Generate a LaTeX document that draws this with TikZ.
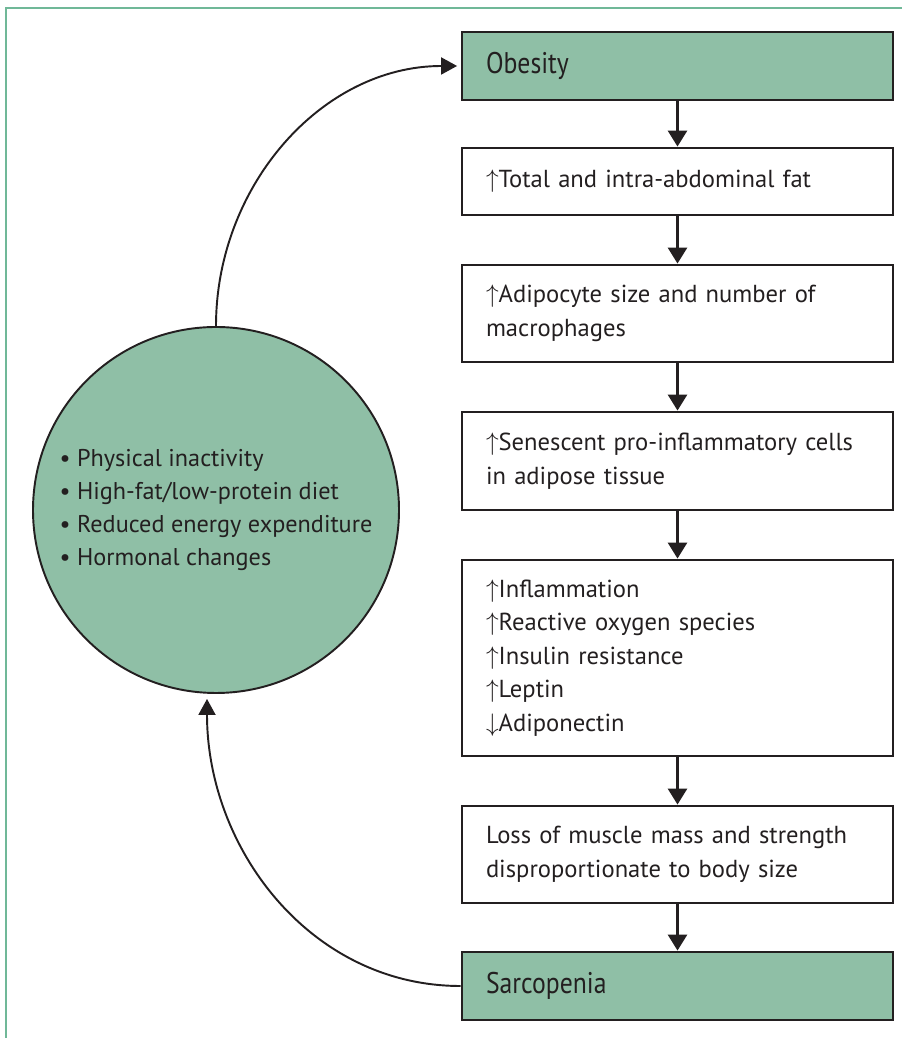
\documentclass[tikz,border=0pt]{standalone}
\usepackage{fontspec}
\setmainfont{PT Sans}
\newfontfamily\titlefont[FakeStretch=0.86]{PT Sans}
\usepackage{xcolor}
\usetikzlibrary{arrows.meta}

\definecolor{boxgreen}{RGB}{143,191,166}
\definecolor{rulegreen}{RGB}{112,184,152}
\definecolor{ink}{RGB}{35,31,32}

\begin{document}
\begin{tikzpicture}[
    box/.style={draw=ink, line width=1.6pt, text=ink, text width=7.66cm, inner xsep=0.48cm, align=left, font=\fontsize{14}{19}\selectfont},
    titlebox/.style={box, fill=boxgreen, font=\titlefont\fontsize{17}{20}\selectfont},
    arrow/.style={-{Triangle[length=0.32cm, width=0.38cm]}, line width=1.6pt, draw=ink},
    backarrow/.style={-{Triangle[length=0.32cm, width=0.34cm]}, line width=1.1pt, draw=ink}
]
\useasboundingbox (0,0) rectangle (18.04,20.76);

% Frame rule
\draw[rulegreen, line width=1.2pt] (0.12,0) -- (0.12,20.6) -- (18.04,20.6);

% Right column - chain of boxes
\node[titlebox, minimum height=1.36cm] (ob) at (13.55,19.44) {Obesity};
\node[box, minimum height=1.34cm] (fat) at (13.55,17.13) {$\uparrow$Total and intra-abdominal fat};
\node[box, minimum height=1.94cm] (adipo) at (13.55,14.49) {$\uparrow$Adipocyte size and number of\\macrophages};
\node[box, minimum height=1.96cm] (sen) at (13.55,11.54) {$\uparrow$Senescent pro-inflammatory cells\\in adipose tissue};
\node[box, minimum height=3.92cm] (infl) at (13.55,7.60) {
    $\uparrow$Inflammation\\
    $\uparrow$Reactive oxygen species\\
    $\uparrow$Insulin resistance\\
    $\uparrow$Leptin\\
    $\downarrow$Adiponectin
};
\node[box, minimum height=1.94cm] (loss) at (13.55,3.67) {Loss of muscle mass and strength\\disproportionate to body size};
\node[titlebox, minimum height=1.36cm] (sarc) at (13.55,1.04) {Sarcopenia};

\foreach \a/\b in {ob/fat, fat/adipo, adipo/sen, sen/infl, infl/loss, loss/sarc}
    \draw[arrow] (\a) -- (\b);

% Left circle - risk factors
\node[circle, draw=ink, line width=1.1pt, fill=boxgreen, minimum size=7.32cm, text=ink, align=left,
      font=\fontsize{13.8}{18.8}\selectfont] (risk) at (4.32,10.56) {
    • Physical inactivity\\
    • High-fat/low-protein diet\\
    • Reduced energy expenditure\\
    • Hormonal changes
};

% Feedback loop
\draw[backarrow, shorten >=2pt] (risk.north) to[out=90, in=180] (ob.west);
\draw[backarrow] (sarc.west) to[out=180, in=-90] ([xshift=-0.18cm, yshift=-0.1cm]risk.south);

\end{tikzpicture}
\end{document}
